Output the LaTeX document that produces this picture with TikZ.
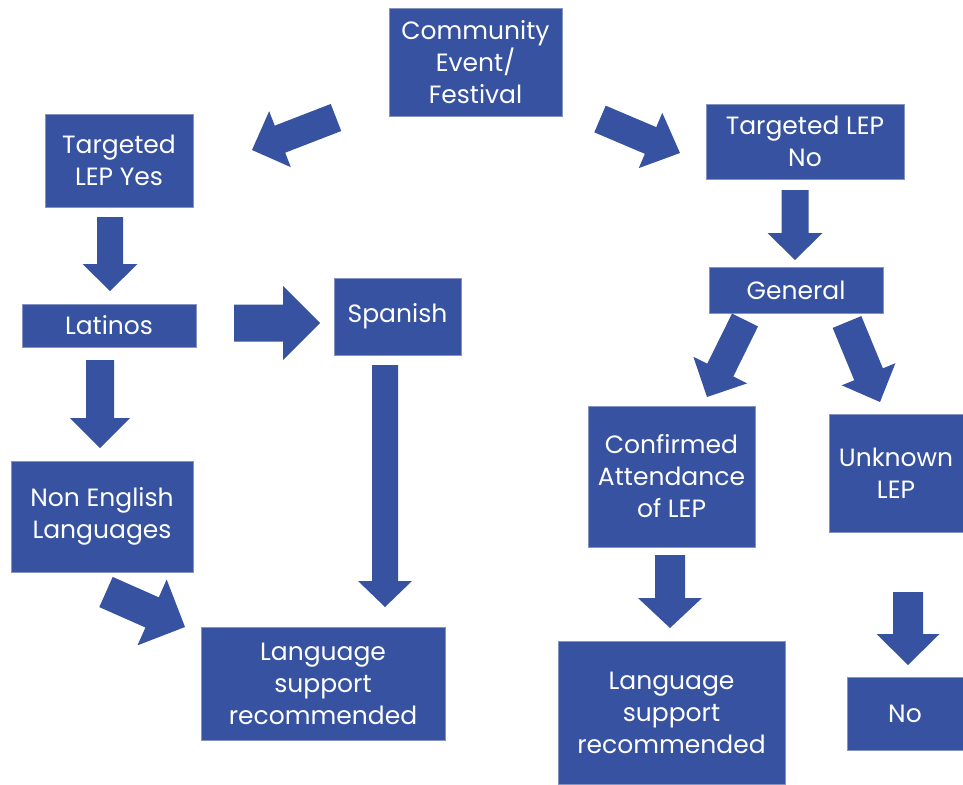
\documentclass[tikz,border=0pt]{standalone}
\usepackage{fontspec}
\setmainfont{Poppins}
\usetikzlibrary{calc}
\definecolor{flowBlue}{HTML}{3652A0}
\definecolor{flowEdge}{HTML}{8493C2}
% block arrow: tail, tip, half shaft, half head, head length
\newcommand{\blockarrow}[5]{%
  \coordinate (hb) at ($(#2)!#5!(#1)$);
  \fill[flowBlue] ($(#1)!#3!-90:(#2)$) -- ($(hb)!#3!-90:(#2)$) -- ($(hb)!#4!-90:(#2)$) -- (#2)
    -- ($(hb)!#4!90:(#2)$) -- ($(hb)!#3!90:(#2)$) -- ($(#1)!#3!90:(#2)$) -- cycle;}

\begin{document}
\begin{tikzpicture}[x=1pt,y=-1pt,line join=miter]
\useasboundingbox[fill=white] (0,0) rectangle (963,784);
\tikzset{box/.style={draw=flowEdge,fill=flowBlue,line width=0.8pt,text=white,align=center,inner sep=2pt,font=\fontsize{25}{32}\selectfont}}
% boxes
\node[box,minimum width=173pt,minimum height=108pt] (event) at (475.5,62) {Community\\Event/\\Festival};
\node[box,minimum width=148pt,minimum height=93pt] (lepyes) at (119,160.5) {Targeted\\LEP Yes};
\node[box,minimum width=198pt,minimum height=75pt] (lepno) at (805,141.5) {Targeted LEP\\No};
\node[box,minimum width=174pt,minimum height=46pt] (general) at (796,290) {General};
\node[box,minimum width=174pt,minimum height=43pt] (latinos) at (109,325.5) {Latinos};
\node[box,minimum width=127pt,minimum height=77pt] (spanish) at (397.5,316.5) {Spanish};
\node[box,minimum width=182pt,minimum height=111pt] (nonenglish) at (102,516.5) {Non English\\Languages};
\node[box,minimum width=244pt,minimum height=113pt] (supportL) at (323,683.5) {Language\\support\\recommended};
\node[box,minimum width=167pt,minimum height=141pt] (confirmed) at (671.5,476.5) {Confirmed\\Attendance\\of LEP};
\node[box,minimum width=134pt,minimum height=118pt] (unknown) at (896,473) {Unknown\\LEP};
\node[box,minimum width=227pt,minimum height=143pt] (supportR) at (671.5,712.5) {Language\\support\\recommended};
\node[box,minimum width=116pt,minimum height=73pt] (no) at (905,713.5) {No};
% arrow ends
\coordinate (evL0) at (336,117.5); \coordinate (evL1) at (252,150);
\coordinate (evR0) at (600,119);   \coordinate (evR1) at (680,153);
\coordinate (yes0) at (110,217);   \coordinate (yes1) at (110,291);
\coordinate (no0) at (795,190);    \coordinate (no1) at (795,260);
\coordinate (lat0) at (100,360);   \coordinate (lat1) at (100,448);
\coordinate (latR0) at (234,323);  \coordinate (latR1) at (320,323);
\coordinate (spa0) at (385,365);   \coordinate (spa1) at (385,607);
\coordinate (non0) at (106,592);   \coordinate (non1) at (185,627);
\coordinate (genL0) at (745,320);  \coordinate (genL1) at (707,397);
\coordinate (genR0) at (847,322);  \coordinate (genR1) at (880,402);
\coordinate (con0) at (670,555);   \coordinate (con1) at (670,628);
\coordinate (unk0) at (908,592);   \coordinate (unk1) at (908,665);
% block arrows
\blockarrow{evL0}{evL1}{14.5pt}{30pt}{30pt}
\blockarrow{evR0}{evR1}{14.5pt}{30pt}{32pt}
\blockarrow{yes0}{yes1}{13pt}{27.5pt}{27pt}
\blockarrow{no0}{no1}{13.5pt}{27.5pt}{27pt}
\blockarrow{lat0}{lat1}{14pt}{30pt}{30pt}
\blockarrow{latR0}{latR1}{18.5pt}{37pt}{37pt}
\blockarrow{spa0}{spa1}{13pt}{27pt}{26pt}
\blockarrow{non0}{non1}{16.5pt}{36pt}{36pt}
\blockarrow{genL0}{genL1}{14.5pt}{30pt}{30pt}
\blockarrow{genR0}{genR1}{15.5pt}{29pt}{30pt}
\blockarrow{con0}{con1}{15pt}{32pt}{30pt}
\blockarrow{unk0}{unk1}{15pt}{31.5pt}{31pt}
\end{tikzpicture}
\end{document}
